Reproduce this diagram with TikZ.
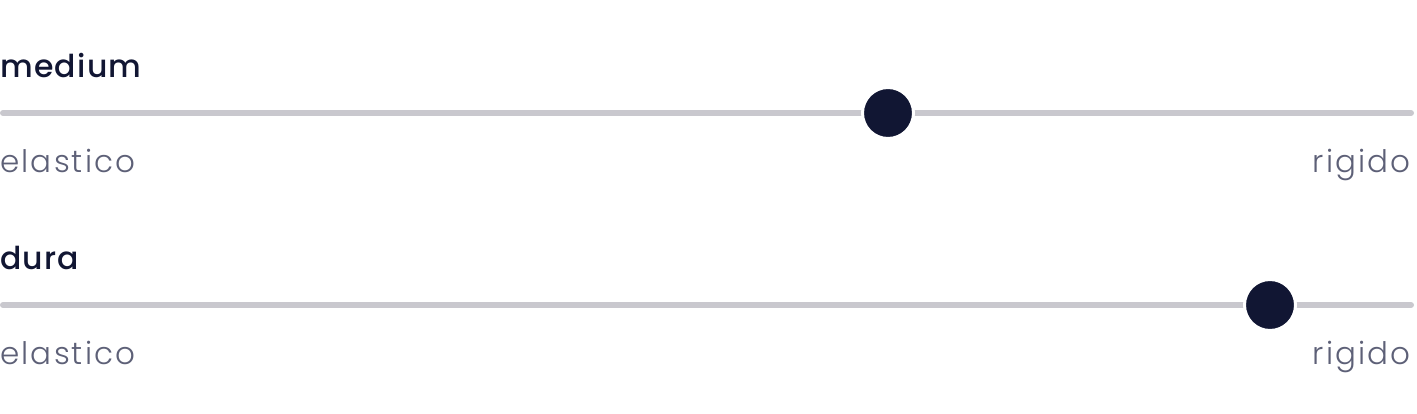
\documentclass[tikz,border=0pt]{standalone}
\usepackage{fontspec}
\setmainfont{Poppins}[UprightFont=* Light, BoldFont=* Medium]
\newfontfamily\labelfont{Poppins Light}[LetterSpace=7]
\newfontfamily\titlefont{Poppins Medium}[LetterSpace=4]
\definecolor{navy}{HTML}{111633}
\definecolor{labelgray}{HTML}{5D6077}
\definecolor{trackgray}{HTML}{C9C8CE}
\tikzset{
  track/.style={draw=trackgray, line width=6pt, line cap=round},
  knob/.style={circle, fill=navy, draw=white, line width=3pt, minimum size=51pt, inner sep=0pt},
  title/.style={anchor=base west, inner sep=0pt, text=navy, font=\fontsize{31.5}{36}\titlefont},
  endlabel/.style={inner sep=0pt, text=labelgray, font=\fontsize{31}{36}\labelfont},
}
\begin{document}
\begin{tikzpicture}[x=1pt,y=-1pt]
\useasboundingbox (0,0) rectangle (1417,413);
\fill[white] (0,0) rectangle (1417,413);
% slider 1
\node[title] (t1) at (0,77) {medium};
\coordinate (a1) at (3,113);
\coordinate (b1) at (1411,113);
\draw[track] (a1) -- (b1);
\node[knob] (k1) at (888,113) {};
\node[endlabel, anchor=base west] (l1) at (0,172) {elastico};
\node[endlabel, anchor=base east] (r1) at (1411,172) {rigido};
% slider 2
\node[title] (t2) at (0,269) {dura};
\coordinate (a2) at (3,305);
\coordinate (b2) at (1411,305);
\draw[track] (a2) -- (b2);
\node[knob] (k2) at (1270,305) {};
\node[endlabel, anchor=base west] (l2) at (0,364) {elastico};
\node[endlabel, anchor=base east] (r2) at (1411,364) {rigido};
\end{tikzpicture}
\end{document}
